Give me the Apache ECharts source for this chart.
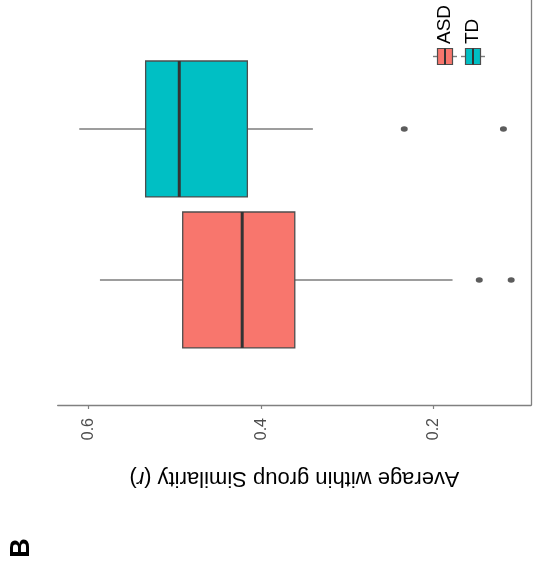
<!DOCTYPE html>
<html>
<head>
<meta charset="utf-8">
<script src="https://cdn.jsdelivr.net/npm/echarts@6/dist/echarts.min.js"></script>
<style>
  html, body { margin: 0; padding: 0; background: #ffffff; }
  #chart { width: 534px; height: 565px; }
</style>
</head>
<body>
<div id="chart"></div>
<script>
// Groups and their box statistics (similarity r)
const groups = ['ASD', 'TD'];
const groupColors = ['#F8766D', '#00BFC4'];
const whiskerHigh = [0.587, 0.611];
const upperQuartile = [0.491, 0.534];
const medians = [0.422, 0.495];
const lowerQuartile = [0.361, 0.416];
const whiskerLow = [0.178, 0.34];
const outliersASD = [0.147, 0.110];
const outliersTD = [0.234, 0.119];
const tickValues = [0.2, 0.4, 0.6];

const FONT = 'Liberation Sans, Arial, Helvetica, sans-serif';
const BOX_WIDTH = 0.9;

const boxData = groups.map((g, i) => [
  i + 1, whiskerLow[i], lowerQuartile[i], medians[i], upperQuartile[i], whiskerHigh[i]
]);
const outlierData = []
  .concat(outliersASD.map(v => [v, 1]))
  .concat(outliersTD.map(v => [v, 2]));

function renderBox(params, api) {
  const pos = api.value(0);
  const lo = api.coord([api.value(1), pos]);
  const q1 = api.coord([api.value(2), pos]);
  const md = api.coord([api.value(3), pos]);
  const q3 = api.coord([api.value(4), pos]);
  const hi = api.coord([api.value(5), pos]);
  const h = api.size([0, BOX_WIDTH])[1];
  const cy = md[1];
  const x0 = Math.min(q1[0], q3[0]);
  const x1 = Math.max(q1[0], q3[0]);
  const fill = groupColors[params.dataIndex];
  return {
    type: 'group',
    children: [
      { type: 'line', shape: { x1: lo[0], y1: cy, x2: q1[0], y2: cy },
        style: { stroke: '#7d7d7d', lineWidth: 1.6 } },
      { type: 'line', shape: { x1: q3[0], y1: cy, x2: hi[0], y2: cy },
        style: { stroke: '#7d7d7d', lineWidth: 1.6 } },
      { type: 'rect', shape: { x: x0, y: cy - h / 2, width: x1 - x0, height: h },
        style: { fill: fill, stroke: '#4d4d4d', lineWidth: 1.3 } },
      { type: 'line', shape: { x1: md[0], y1: cy - h / 2, x2: md[0], y2: cy + h / 2 },
        style: { stroke: '#333333', lineWidth: 3 } }
    ]
  };
}

// Legend keys (drawn rotated like the rest of the panel)
function legendKey(cx, cy, color) {
  return [
    { type: 'line', shape: { x1: cx - 12, y1: cy, x2: cx + 12, y2: cy },
      style: { stroke: '#7d7d7d', lineWidth: 1.4 } },
    { type: 'rect', shape: { x: cx - 7.5, y: cy - 8, width: 15, height: 16 },
      style: { fill: color, stroke: '#4d4d4d', lineWidth: 1.2 } },
    { type: 'line', shape: { x1: cx, y1: cy - 8, x2: cx, y2: cy + 8 },
      style: { stroke: '#333333', lineWidth: 2 } }
  ];
}
const legendX = [445, 473];
const legendGraphics = [];
groups.forEach((g, i) => {
  legendGraphics.push(...legendKey(legendX[i], 56.5, groupColors[i]));
  legendGraphics.push({
    type: 'text', x: legendX[i], y: 44, rotation: Math.PI / 2,
    style: { text: g, font: '19px ' + FONT, fill: '#000', align: 'left', verticalAlign: 'middle' }
  });
});
legendGraphics.push({
  type: 'text', x: 22, y: 548, rotation: Math.PI / 2,
  style: { text: 'B', font: 'bold 27px ' + FONT, fill: '#000', align: 'center', verticalAlign: 'middle' }
});

const chart = echarts.init(document.getElementById('chart'), null, { renderer: 'canvas' });
chart.setOption({
  animation: false,
  backgroundColor: '#ffffff',
  grid: { left: 57.7, right: 3, top: 0, bottom: 160 },
  xAxis: {
    type: 'value',
    inverse: true,
    min: 0.087,
    max: 0.636,
    axisLine: { show: true, lineStyle: { color: '#808080', width: 1.3 } },
    axisTick: { show: true, length: 4, customValues: tickValues, lineStyle: { color: '#808080', width: 1.2 } },
    axisLabel: {
      customValues: tickValues, rotate: 90, margin: 13,
      fontSize: 16, fontFamily: FONT, color: '#4d4d4d',
      formatter: v => v.toFixed(1)
    },
    splitLine: { show: false },
    name: 'Average within group Similarity ({i|r})',
    nameLocation: 'middle',
    nameRotate: 180,
    nameGap: 62,
    nameTextStyle: {
      fontSize: 22, fontFamily: FONT, color: '#000',
      rich: { i: { fontSize: 22, fontFamily: FONT, fontStyle: 'italic', color: '#000' } }
    }
  },
  yAxis: {
    type: 'value',
    position: 'right',
    min: 0.172,
    max: 2.854,
    axisLine: { show: true, lineStyle: { color: '#808080', width: 1.3 } },
    axisTick: { show: false },
    axisLabel: { show: false },
    splitLine: { show: false }
  },
  series: [
    {
      type: 'custom',
      renderItem: renderBox,
      data: boxData,
      encode: { x: [1, 2, 3, 4, 5], y: 0 },
      clip: false
    },
    {
      type: 'scatter',
      data: outlierData,
      symbol: 'circle',
      symbolSize: [7, 5.5],
      itemStyle: { color: '#333333' },
      z: 3
    }
  ],
  graphic: legendGraphics
});
</script>
</body>
</html>
